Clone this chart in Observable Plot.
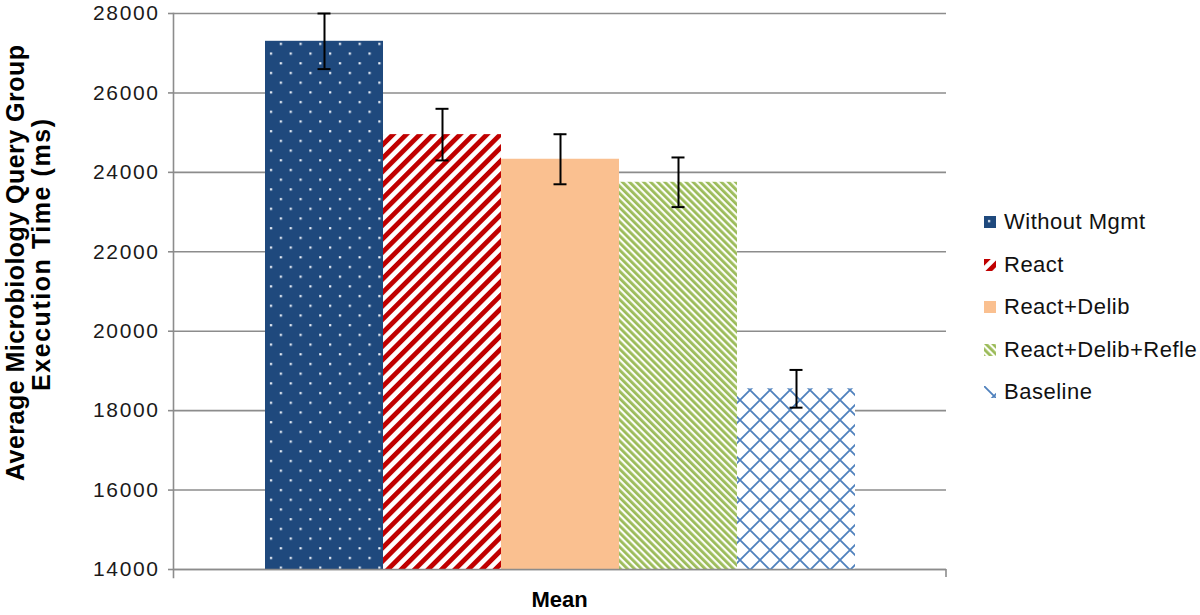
<!DOCTYPE html>
<html><head><meta charset="utf-8">
<script src="https://cdn.jsdelivr.net/npm/d3@7"></script>
<script src="https://cdn.jsdelivr.net/npm/@observablehq/plot@0.6"></script>
<style>
body{margin:0;background:#fff;font-family:"Liberation Sans",Arial,sans-serif}
#wrap{position:relative;width:1200px;height:615px;overflow:hidden}
#wrap svg{display:block}
g[aria-label="y-axis tick label"] text{letter-spacing:1.6px}
#legend{position:absolute;left:984px;top:201px}
.row{display:flex;align-items:center;height:42.5px;font-size:22px;letter-spacing:0.5px;color:#111;white-space:nowrap}
.row svg{margin-right:8px}
</style></head><body><div id="wrap"></div>
<script>
// ---- data ----
const series = ["Without Mgmt", "React", "React+Delib", "React+Delib+Refle", "Baseline"];
const means  = [27300, 24950, 24330, 23750, 18550];
const errors = [700, 650, 630, 625, 475];
const yTicks = [14000, 16000, 18000, 20000, 22000, 24000, 26000, 28000];
const xLabel = "Mean";
const yLabelLines = ["Average Microbiology Query Group", "Execution Time (ms)"];

// ---- styles ----
const fills = ["url(#pat-dots)", "url(#pat-red)", "#fac090", "url(#pat-green)", "url(#pat-cross)"];
const gridColor = "#8c8c8c";

const data = series.map((name, i) => ({name, mean: means[i], err: errors[i]}));
const W = 1200, H = 615, mL = 173, mR = 254, mT = 13, mB = 46;

const plot = Plot.plot({
  width: W, height: H, marginTop: mT, marginBottom: mB, marginLeft: mL, marginRight: mR,
  style: {fontFamily: '"Liberation Sans", Arial, sans-serif', background: "transparent", overflow: "visible"},
  x: {domain: series, paddingInner: 0, paddingOuter: 0.75, axis: null},
  y: {domain: [yTicks[0], yTicks[yTicks.length - 1]], axis: null},
  color: {domain: series, range: fills},
  marks: [
    Plot.gridY(yTicks, {stroke: gridColor, strokeOpacity: 1, strokeWidth: 1.6}),
    Plot.barY(data, {x: "name", y1: () => yTicks[0], y2: "mean", fill: "name"}),
    Plot.ruleY([yTicks[0]], {stroke: gridColor, strokeWidth: 1.6}),
    Plot.ruleX(data, {x: "name", y1: d => d.mean - d.err, y2: d => d.mean + d.err, stroke: "#000", strokeWidth: 2}),
    Plot.tickY(data, {x: "name", y: d => d.mean + d.err, insetLeft: 52.5, insetRight: 52.5, stroke: "#000", strokeWidth: 2}),
    Plot.tickY(data, {x: "name", y: d => d.mean - d.err, insetLeft: 52.5, insetRight: 52.5, stroke: "#000", strokeWidth: 2}),
    Plot.axisY(yTicks, {anchor: "left", tickSize: 5, tickPadding: 9, stroke: gridColor, strokeWidth: 1.6, fill: "#1a1a1a", fontSize: 21, tickFormat: "d", label: null}),
    Plot.frame({anchor: "left", stroke: gridColor, strokeWidth: 1.6, insetBottom: -8})
  ]
});

// pattern definitions
const defs = d3.select(plot).insert("defs", ":first-child");
// dots
const pd = defs.append("pattern").attr("id", "pat-dots").attr("patternUnits", "userSpaceOnUse").attr("width", 19.7).attr("height", 19.4);
pd.append("rect").attr("width", 19.7).attr("height", 19.4).attr("fill", "#1f497d");
pd.append("rect").attr("x", 4).attr("y", 4).attr("width", 2.2).attr("height", 2.2).attr("fill", "#eef3fa");
pd.append("rect").attr("x", 13.85).attr("y", 13.7).attr("width", 2.2).attr("height", 2.2).attr("fill", "#eef3fa");
// red stripes "/"
const pr = defs.append("pattern").attr("id", "pat-red").attr("patternUnits", "userSpaceOnUse").attr("width", 9.5).attr("height", 9.5).attr("patternTransform", "rotate(45)");
pr.append("rect").attr("width", 9.5).attr("height", 9.5).attr("fill", "#fff");
pr.append("rect").attr("width", 4.8).attr("height", 9.5).attr("fill", "#c00000");
// green stripes "\"
const pg = defs.append("pattern").attr("id", "pat-green").attr("patternUnits", "userSpaceOnUse").attr("width", 5).attr("height", 5).attr("patternTransform", "rotate(-45)");
pg.append("rect").attr("width", 5).attr("height", 5).attr("fill", "#fbfdf6");
pg.append("rect").attr("width", 2.8).attr("height", 5).attr("fill", "#9bbb59");
// crosshatch
const pc = defs.append("pattern").attr("id", "pat-cross").attr("patternUnits", "userSpaceOnUse").attr("width", 20).attr("height", 20);
pc.append("rect").attr("width", 20).attr("height", 20).attr("fill", "#fff");
pc.append("path").attr("d", "M-2,-2L22,22M22,-2L-2,22").attr("stroke", "#4f81bd").attr("stroke-width", 1.8).attr("fill", "none");

// axis titles
const svg = d3.select(plot);
const yPix = plot.scale("y").apply(yTicks[0]);
svg.append("line").attr("x1", W - mR).attr("x2", W - mR).attr("y1", yPix).attr("y2", yPix + 8).attr("stroke", gridColor).attr("stroke-width", 1.6);
svg.append("text").attr("x", (mL + W - mR) / 2).attr("y", 607).attr("text-anchor", "middle")
  .attr("font-weight", "bold").attr("font-size", 22).attr("fill", "#000").text(xLabel);
const yl = [{x: 24, y: 263, len: 436}, {x: 50, y: 255, len: 272}];
yLabelLines.forEach((t, i) => {
  svg.append("text").attr("transform", `translate(${yl[i].x},${yl[i].y}) rotate(-90)`)
    .attr("text-anchor", "middle").attr("font-weight", "bold").attr("font-size", 25).attr("fill", "#000")
    .attr("textLength", yl[i].len).attr("lengthAdjust", "spacing").text(t);
});

const wrap = document.getElementById("wrap");
wrap.appendChild(plot);

// legend
const legend = d3.select(wrap).append("div").attr("id", "legend");
series.forEach((s, i) => {
  const row = legend.append("div").attr("class", "row");
  const sw = row.append("svg").attr("width", 12).attr("height", 12);
  sw.append("rect").attr("width", 12).attr("height", 12).attr("fill", fills[i]);
  row.append("span").text(s);
});
</script></body></html>
